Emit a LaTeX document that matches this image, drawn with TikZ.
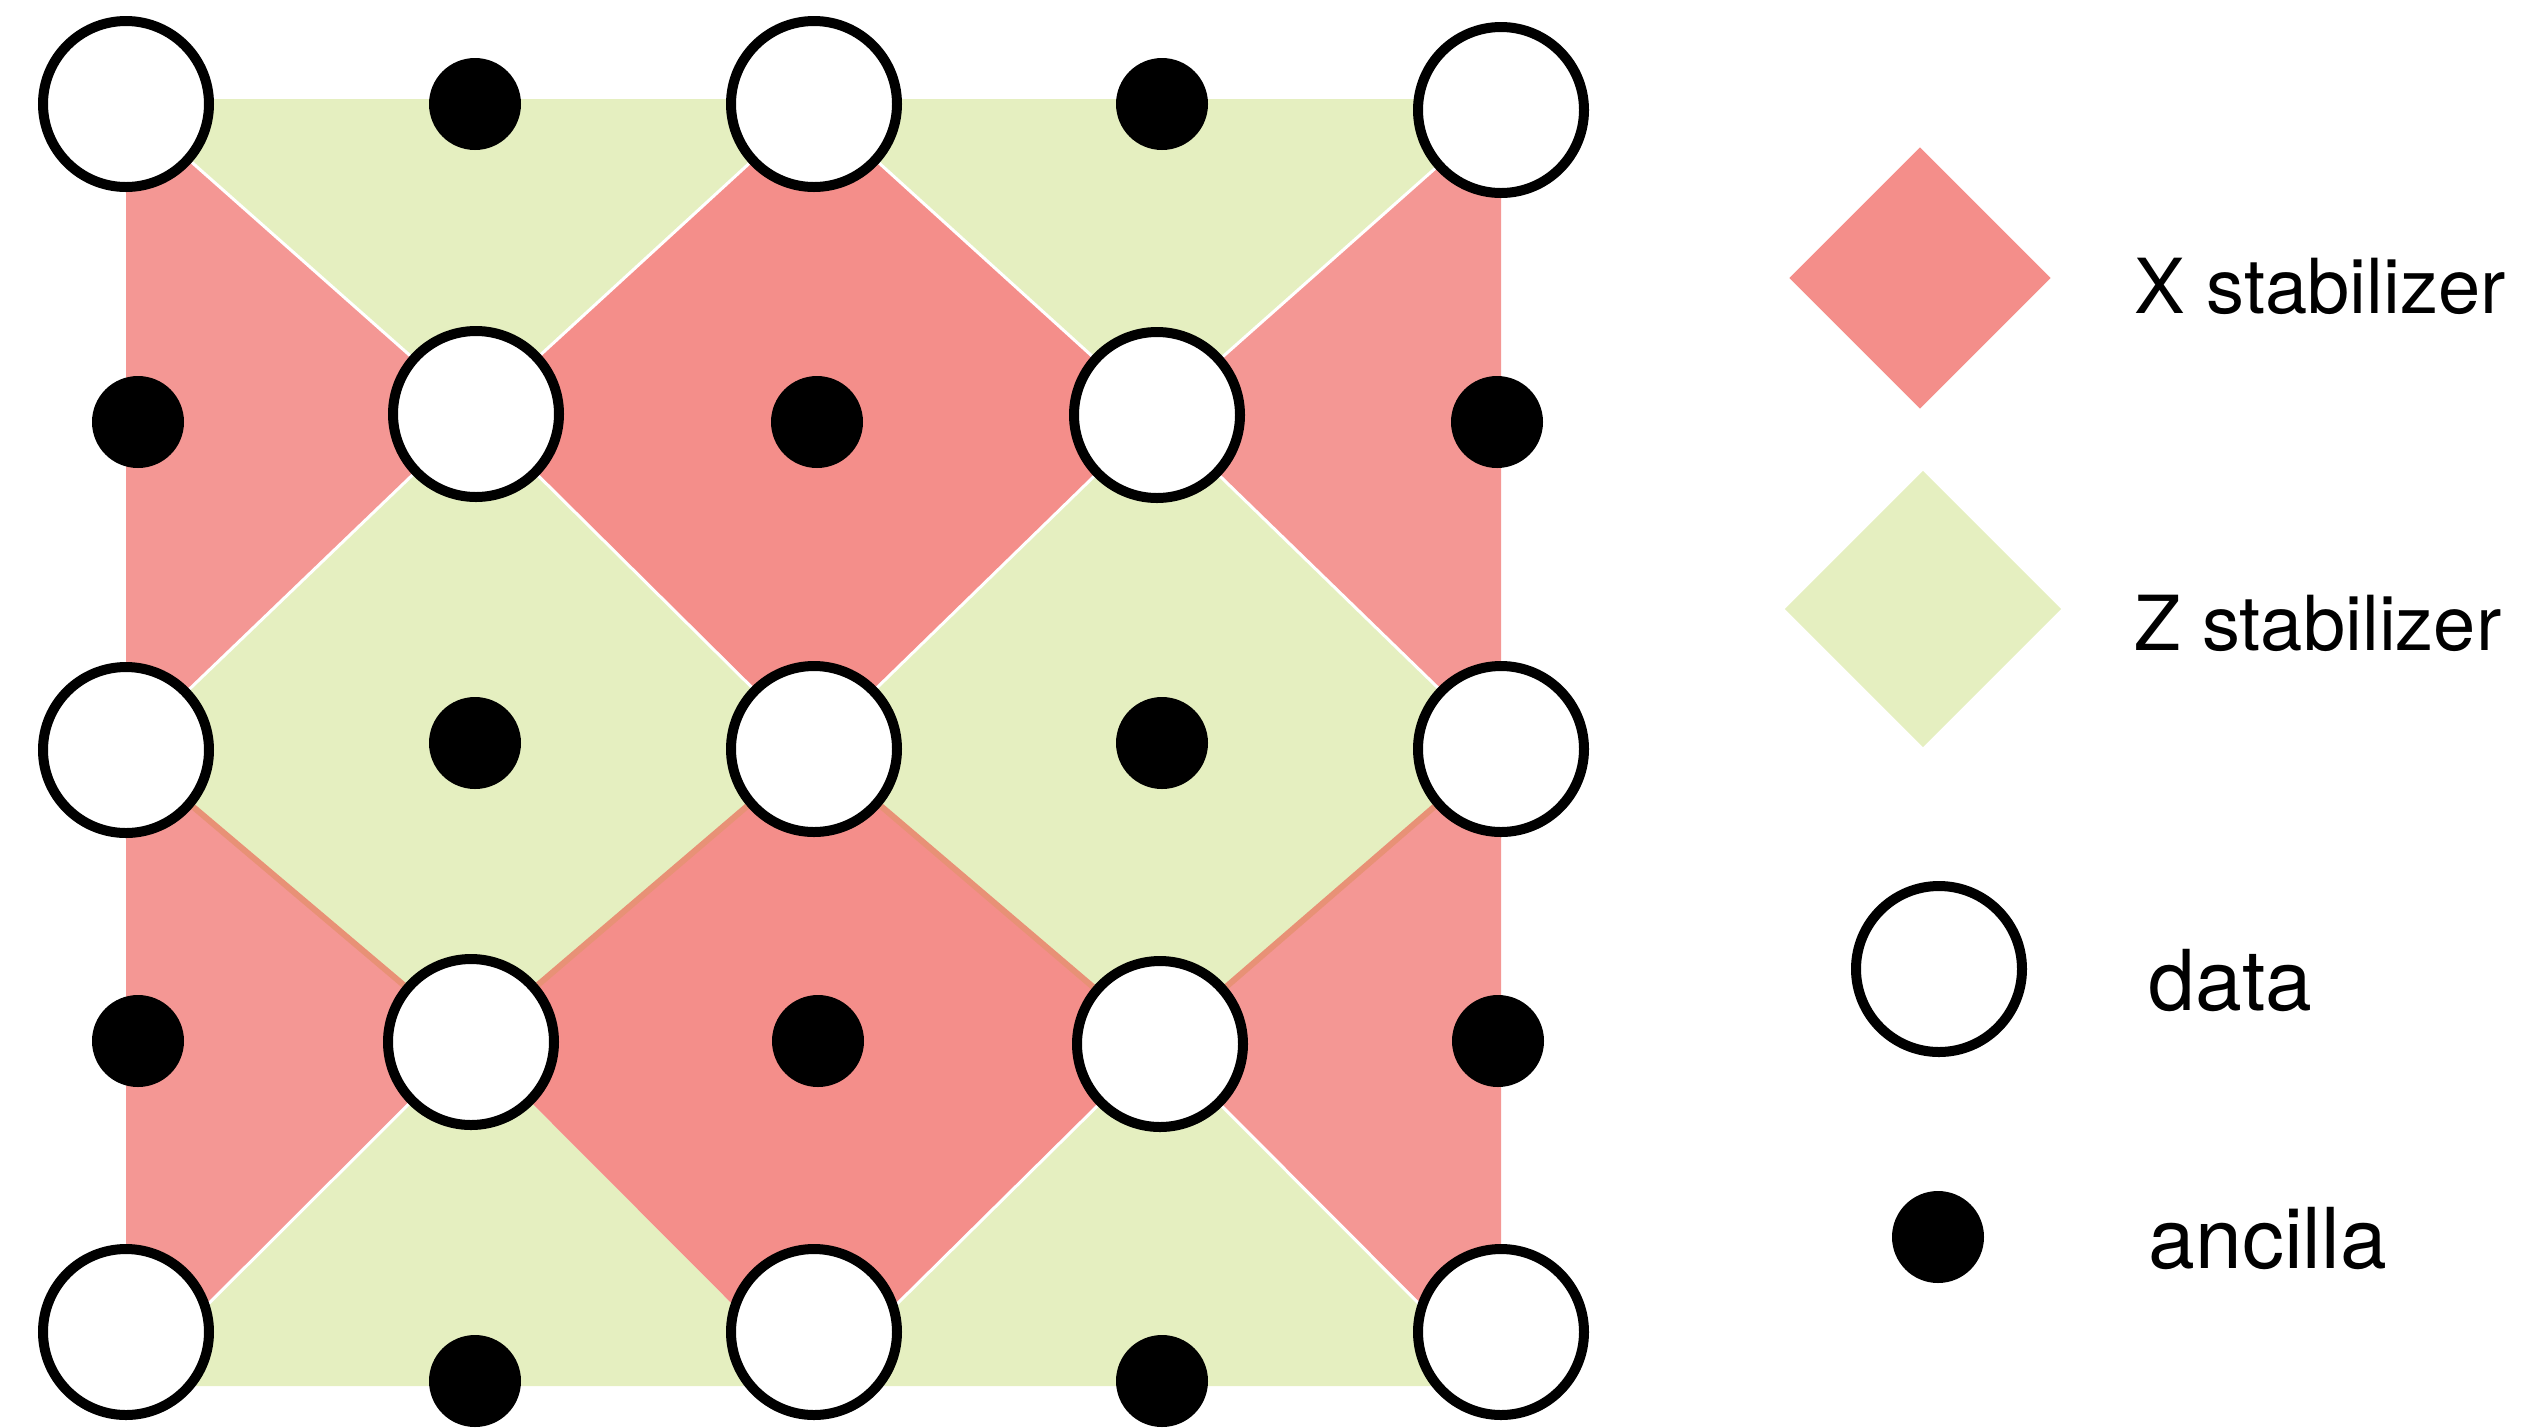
\documentclass[tikz,border=0pt]{standalone}
\usepackage{fontspec}
\setmainfont{TeX Gyre Heros}
\usepackage{xcolor}
\definecolor{FillRed}{RGB}{244,142,138}
\definecolor{FillRedSide}{RGB}{244,151,148}
\definecolor{FillGreen}{RGB}{229,239,192}
\definecolor{SeamOrange}{RGB}{232,145,118}
\usepackage{tikz}
\usetikzlibrary{shapes.geometric, backgrounds}
\tikzset{
  % Data qubit
  qdata/.style={
    circle, draw=black, line width=1mm,
    fill=white, minimum size=16.6mm, inner sep=0pt
  },
  % Ancilla qubit
  qanc/.style={circle, fill=black, minimum size=9.2mm, inner sep=0pt},
  % Plaquettes
  xplaq/.style={fill=FillRed},
  xplaq side/.style={fill=FillRedSide},
  zplaq/.style={fill=FillGreen},
  % Seams between plaquettes
  gapline/.style={white, line width=0.3mm},
  seam/.style={SeamOrange, line width=0.6mm},
  % Legend
  legdiamond/.style={diamond, aspect=1, inner sep=0pt},
  legtext/.style={anchor=base west, inner sep=0pt,
    font=\fontsize{21.6}{26}\selectfont},
  legtext big/.style={legtext, font=\fontsize{23.9}{28}\selectfont},
}

\begin{document}
\begin{tikzpicture}[x=0.1mm, y=-0.1mm]
  \useasboundingbox (0,0) rectangle (2526,1427);

  % Data qubits
  \node[qdata] (d11) at (126,104) {};
  \node[qdata] (d12) at (814,104) {};
  \node[qdata] (d13) at (1501,110) {};
  \node[qdata] (d21) at (476,414) {};
  \node[qdata] (d22) at (1157,415) {};
  \node[qdata] (d31) at (126,750) {};
  \node[qdata] (d32) at (814,749) {};
  \node[qdata] (d33) at (1501,749) {};
  \node[qdata] (d41) at (471,1042) {};
  \node[qdata] (d42) at (1160,1044) {};
  \node[qdata] (d51) at (126,1332) {};
  \node[qdata] (d52) at (814,1332) {};
  \node[qdata] (d53) at (1501,1332) {};

  % Ancilla qubits
  \node[qanc] (a11) at (475,104) {};
  \node[qanc] (a12) at (1162,104) {};
  \node[qanc] (a21) at (138,422) {};
  \node[qanc] (a22) at (817,422) {};
  \node[qanc] (a23) at (1497,422) {};
  \node[qanc] (a31) at (475,743) {};
  \node[qanc] (a32) at (1162,743) {};
  \node[qanc] (a41) at (138,1041) {};
  \node[qanc] (a42) at (818,1041) {};
  \node[qanc] (a43) at (1498,1041) {};
  \node[qanc] (a51) at (475,1381) {};
  \node[qanc] (a52) at (1162,1381) {};

  % Outer corners of the patch
  \coordinate (tl) at (126,99);
  \coordinate (tr) at (1501,99);
  \coordinate (bl) at (126,1386);
  \coordinate (bm) at (814,1386);
  \coordinate (br) at (1501,1386);

  \begin{scope}[on background layer]
    % Z plaquettes
    \fill[zplaq] (tl) -- (tr) -- (d13.center) -- (d22.center) -- (d12.center)
      -- (d21.center) -- (d11.center) -- cycle;
    \fill[zplaq] (d21.center) -- (d32.center) -- (d41.center) -- (d31.center) -- cycle;
    \fill[zplaq] (d22.center) -- (d33.center) -- (d42.center) -- (d32.center) -- cycle;
    \fill[zplaq] (bl) -- (d41.center) -- (bm) -- (d42.center) -- (br) -- cycle;
    % X plaquettes
    \fill[xplaq side] (d11.center) -- (d21.center) -- (d31.center) -- cycle;
    \fill[xplaq] (d12.center) -- (d22.center) -- (d32.center) -- (d21.center) -- cycle;
    \fill[xplaq side] (d13.center) -- (d33.center) -- (d22.center) -- cycle;
    \fill[xplaq side] (d31.center) -- (d41.center) -- (bl) -- cycle;
    \fill[xplaq] (d32.center) -- (d42.center) -- (bm) -- (d41.center) -- cycle;
    \fill[xplaq side] (d33.center) -- (br) -- (d42.center) -- cycle;

    % Seams
    \draw[gapline] (d11) -- (d21);
    \draw[gapline] (d21) -- (d12);
    \draw[gapline] (d12) -- (d22);
    \draw[gapline] (d22) -- (d13);
    \draw[gapline] (d31) -- (d21);
    \draw[gapline] (d21) -- (d32);
    \draw[gapline] (d32) -- (d22);
    \draw[gapline] (d22) -- (d33);
    \draw[gapline] (d41) -- (bl);
    \draw[gapline] (d42) -- (bm);
    \draw[gapline] (d42) -- (br);
    \draw[seam] (d31) -- (d41);
    \draw[seam] (d41) -- (d32);
    \draw[seam] (d32) -- (d42);
    \draw[seam] (d42) -- (d33);
  \end{scope}

  % Legend
  \node[legdiamond, fill=FillRed, minimum size=26.2mm] (legx) at (1920,278) {};
  \node[legdiamond, fill=FillGreen, minimum size=27.7mm] (legz) at (1923,609) {};
  \node[qdata] (legd) at (1939,969) {};
  \node[qanc] (lega) at (1938,1237) {};
  \node[legtext] (legxt) at (2134,313) {X stabilizer};
  \node[legtext] (legzt) at (2134,650) {Z stabilizer};
  \node[legtext big] (legdt) at (2148,1010) {data};
  \node[legtext big] (legat) at (2148,1268) {ancilla};
\end{tikzpicture}
\end{document}
